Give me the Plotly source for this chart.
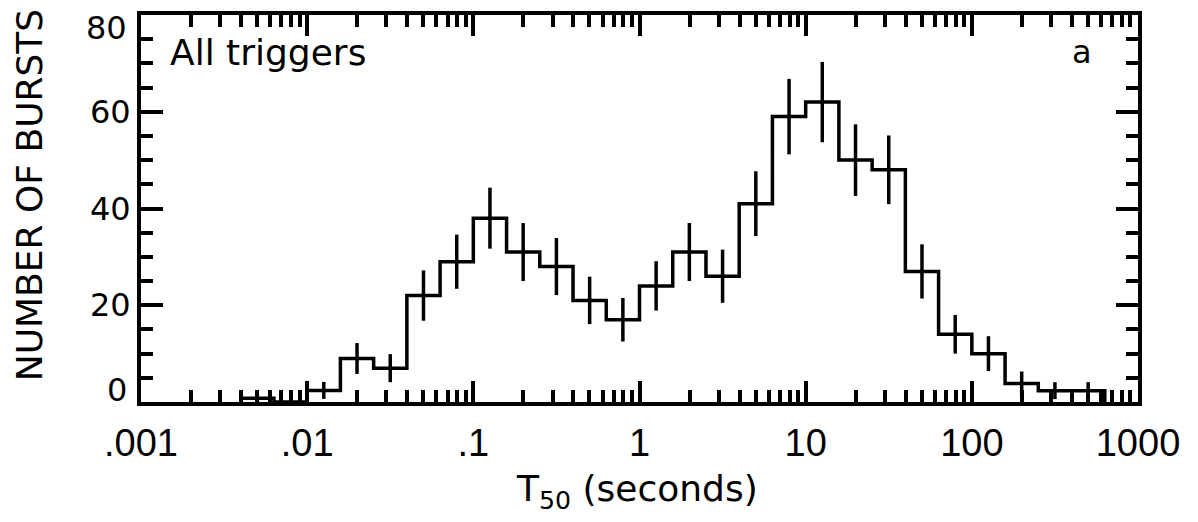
import plotly.graph_objects as go

# ---- data ----
# histogram bin edges in log10(T50 / s), 0.2 dex bins
bin_edges_log10 = [-2.4, -2.2, -2.0, -1.8, -1.6, -1.4, -1.2, -1.0, -0.8, -0.6, -0.4,
                   -0.2, 0.0, 0.2, 0.4, 0.6, 0.8, 1.0, 1.2, 1.4, 1.6, 1.8, 2.0,
                   2.2, 2.4, 2.6, 2.8]
counts = [0.8, 0, 2.4, 9, 7, 22, 29, 38, 31, 28, 21, 17, 24, 31, 26, 41, 59, 62,
          50, 48, 27, 14, 10, 3.8, 2.35, 2.35]
errors = [0.9, 0, 1.75, 3.2, 2.9, 5.2, 5.6, 6.3, 6.0, 5.9, 4.9, 4.5, 5.1, 6.0, 5.5,
          6.7, 7.8, 8.3, 7.4, 7.1, 5.6, 4.0, 3.6, 2.5, 1.75, 1.75]

x_tick_vals = [0.001, 0.01, 0.1, 1, 10, 100, 1000]
x_tick_text = [".001", ".01", ".1", "1", "10", "100", "1000"]
y_tick_vals = [20, 40, 60]
y_tick_text = ["20", "40", "60"]
y_end_labels = [(0, "0"), (80, "80")]

FONT = "DejaVu Sans"
XFONT = "Liberation Sans, DejaVu Sans, sans-serif"

edges = [10 ** e for e in bin_edges_log10]
centers = [10 ** ((a + b) / 2) for a, b in zip(bin_edges_log10[:-1], bin_edges_log10[1:])]

step_x = [edges[0]] + edges
step_y = [0] + counts + [0]

minor_x = [m * 10 ** d for d in range(-3, 3) for m in range(2, 10)]

fig = go.Figure()
fig.add_trace(go.Scatter(
    x=step_x, y=step_y, mode="lines", line=dict(shape="hv", color="black", width=3.5),
    hoverinfo="skip", showlegend=False, cliponaxis=False))
fig.add_trace(go.Scatter(
    x=centers, y=counts, mode="markers", marker=dict(size=0.1, color="black"),
    error_y=dict(type="data", array=errors, visible=True, color="black", thickness=3.5, width=0),
    showlegend=False, hoverinfo="skip"))

axis_common = dict(showline=True, linecolor="black", linewidth=4, mirror="ticks",
                   ticks="inside", tickcolor="black", tickwidth=3.5, showgrid=False,
                   zeroline=False)

fig.update_xaxes(type="log", range=[-3, 3], tickmode="array", tickvals=x_tick_vals,
                 ticktext=x_tick_text, ticklen=21, ticklabelstandoff=4,
                 tickfont=dict(family=XFONT, size=38, color="black"),
                 minor=dict(tickmode="array", tickvals=minor_x, ticks="inside", ticklen=12,
                            tickwidth=3.5, tickcolor="black", showgrid=False),
                 **axis_common)
fig.update_yaxes(range=[0, 80], tickmode="array", tickvals=y_tick_vals, ticktext=y_tick_text,
                 ticklen=22, ticklabelstandoff=0,
                 tickfont=dict(family=FONT, size=32, color="black"),
                 minor=dict(dtick=5, tick0=0, ticks="inside", ticklen=12, tickwidth=3.5,
                            tickcolor="black", showgrid=False),
                 **axis_common)

for val, txt in y_end_labels:
    fig.add_annotation(text=txt, xref="paper", yref="y", x=-0.012, y=val,
                       xanchor="right", yanchor="bottom" if val == 0 else "top",
                       yshift=-9 if val == 0 else 8,
                       showarrow=False, font=dict(family=FONT, size=32, color="black"))

fig.add_annotation(text="All triggers", xref="paper", yref="paper", x=0.027, y=0.902,
                   xanchor="left", yanchor="middle", showarrow=False,
                   font=dict(family=FONT, size=36, color="black"))
fig.add_annotation(text="a", xref="paper", yref="paper", x=0.944, y=0.905,
                   xanchor="center", yanchor="middle", showarrow=False,
                   font=dict(family=FONT, size=32, color="black"))
fig.add_annotation(text="T<sub>50</sub> (seconds)", xref="paper", yref="paper", x=0.497, y=-0.23,
                   xanchor="center", yanchor="middle", showarrow=False,
                   font=dict(family=FONT, size=36, color="black"))
fig.add_annotation(text="NUMBER OF BURSTS", xref="paper", yref="paper", x=-0.111, y=0.535,
                   xanchor="center", yanchor="middle", showarrow=False, textangle=-90,
                   font=dict(family=FONT, size=36, color="black"))

fig.update_layout(width=1198, height=522, margin=dict(l=141, r=60, t=11, b=120),
                  plot_bgcolor="white", paper_bgcolor="white")

fig.write_html("out.html")
